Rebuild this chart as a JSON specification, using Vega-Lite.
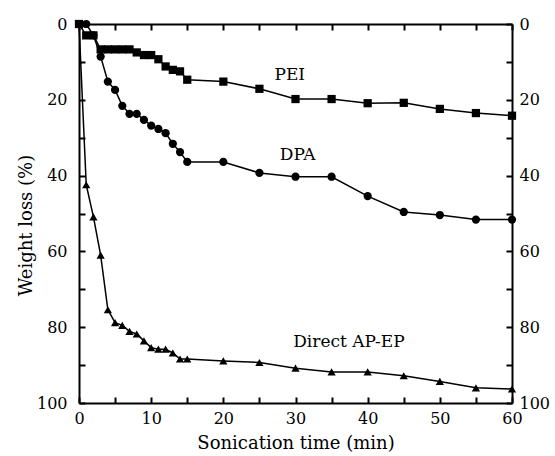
{
  "$schema": "https://vega.github.io/schema/vega-lite/v6.json",
  "width": 433,
  "height": 379,
  "autosize": {"type": "none"},
  "padding": {"left": 79, "top": 24, "right": 43, "bottom": 53},
  "background": "white",
  "config": {
    "view": {"stroke": null},
    "axis": {
      "grid": false,
      "domainColor": "black",
      "domainWidth": 2,
      "tickColor": "black",
      "tickWidth": 2,
      "tickSize": -6,
      "labelFont": "DejaVu Serif",
      "labelFontSize": 16,
      "labelColor": "black",
      "labelOverlap": false,
      "labelFlush": false,
      "titleFont": "DejaVu Serif",
      "titleFontSize": 18,
      "titleFontWeight": "normal",
      "titleColor": "black"
    }
  },
  "datasets": {
    "series": [
      {"t": 0, "w": 0, "s": "PEI"},
      {"t": 1, "w": 3, "s": "PEI"},
      {"t": 2, "w": 3, "s": "PEI"},
      {"t": 3, "w": 6.7, "s": "PEI"},
      {"t": 4, "w": 6.7, "s": "PEI"},
      {"t": 5, "w": 6.7, "s": "PEI"},
      {"t": 6, "w": 6.7, "s": "PEI"},
      {"t": 7, "w": 6.7, "s": "PEI"},
      {"t": 8, "w": 7.5, "s": "PEI"},
      {"t": 9, "w": 8.2, "s": "PEI"},
      {"t": 10, "w": 8.2, "s": "PEI"},
      {"t": 11, "w": 9.3, "s": "PEI"},
      {"t": 12, "w": 11.2, "s": "PEI"},
      {"t": 13, "w": 12.1, "s": "PEI"},
      {"t": 14, "w": 12.5, "s": "PEI"},
      {"t": 15, "w": 14.7, "s": "PEI"},
      {"t": 20, "w": 15.2, "s": "PEI"},
      {"t": 25, "w": 17.1, "s": "PEI"},
      {"t": 30, "w": 19.8, "s": "PEI"},
      {"t": 35, "w": 19.8, "s": "PEI"},
      {"t": 40, "w": 20.9, "s": "PEI"},
      {"t": 45, "w": 20.8, "s": "PEI"},
      {"t": 50, "w": 22.4, "s": "PEI"},
      {"t": 55, "w": 23.5, "s": "PEI"},
      {"t": 60, "w": 24.2, "s": "PEI"},
      {"t": 0, "w": 0, "s": "DPA"},
      {"t": 1, "w": 0, "s": "DPA"},
      {"t": 2, "w": 3, "s": "DPA"},
      {"t": 3, "w": 8.6, "s": "DPA"},
      {"t": 4, "w": 15.2, "s": "DPA"},
      {"t": 5, "w": 17.4, "s": "DPA"},
      {"t": 6, "w": 21.6, "s": "DPA"},
      {"t": 7, "w": 23.7, "s": "DPA"},
      {"t": 8, "w": 23.7, "s": "DPA"},
      {"t": 9, "w": 25.3, "s": "DPA"},
      {"t": 10, "w": 26.8, "s": "DPA"},
      {"t": 11, "w": 27.7, "s": "DPA"},
      {"t": 12, "w": 28.8, "s": "DPA"},
      {"t": 13, "w": 31.6, "s": "DPA"},
      {"t": 14, "w": 33.8, "s": "DPA"},
      {"t": 15, "w": 36.4, "s": "DPA"},
      {"t": 20, "w": 36.4, "s": "DPA"},
      {"t": 25, "w": 39.3, "s": "DPA"},
      {"t": 30, "w": 40.3, "s": "DPA"},
      {"t": 35, "w": 40.3, "s": "DPA"},
      {"t": 40, "w": 45.4, "s": "DPA"},
      {"t": 45, "w": 49.6, "s": "DPA"},
      {"t": 50, "w": 50.4, "s": "DPA"},
      {"t": 55, "w": 51.6, "s": "DPA"},
      {"t": 60, "w": 51.6, "s": "DPA"},
      {"t": 0, "w": 0, "s": "Direct AP-EP"},
      {"t": 1, "w": 42.4, "s": "Direct AP-EP"},
      {"t": 2, "w": 50.9, "s": "Direct AP-EP"},
      {"t": 3, "w": 61, "s": "Direct AP-EP"},
      {"t": 4, "w": 75.4, "s": "Direct AP-EP"},
      {"t": 5, "w": 78.8, "s": "Direct AP-EP"},
      {"t": 6, "w": 79.5, "s": "Direct AP-EP"},
      {"t": 7, "w": 81.1, "s": "Direct AP-EP"},
      {"t": 8, "w": 81.8, "s": "Direct AP-EP"},
      {"t": 9, "w": 83.6, "s": "Direct AP-EP"},
      {"t": 10, "w": 85.4, "s": "Direct AP-EP"},
      {"t": 11, "w": 85.8, "s": "Direct AP-EP"},
      {"t": 12, "w": 85.8, "s": "Direct AP-EP"},
      {"t": 13, "w": 86.8, "s": "Direct AP-EP"},
      {"t": 14, "w": 88.4, "s": "Direct AP-EP"},
      {"t": 15, "w": 88.4, "s": "Direct AP-EP"},
      {"t": 20, "w": 88.9, "s": "Direct AP-EP"},
      {"t": 25, "w": 89.3, "s": "Direct AP-EP"},
      {"t": 30, "w": 90.8, "s": "Direct AP-EP"},
      {"t": 35, "w": 91.8, "s": "Direct AP-EP"},
      {"t": 40, "w": 91.8, "s": "Direct AP-EP"},
      {"t": 45, "w": 92.8, "s": "Direct AP-EP"},
      {"t": 50, "w": 94.3, "s": "Direct AP-EP"},
      {"t": 55, "w": 96, "s": "Direct AP-EP"},
      {"t": 60, "w": 96.3, "s": "Direct AP-EP"}
    ],
    "labels": [
      {"t": 29.2, "w": 13.4, "text": "PEI"},
      {"t": 30.3, "w": 34.5, "text": "DPA"},
      {"t": 37.4, "w": 84, "text": "Direct AP-EP"}
    ]
  },
  "layer": [
    {
      "data": {"name": "series"},
      "mark": {"type": "line", "color": "black", "strokeWidth": 1.5},
      "encoding": {
        "x": {
          "field": "t", "type": "quantitative",
          "scale": {"domain": [0, 60], "nice": false},
          "axis": {
            "orient": "bottom",
            "values": [0, 5, 10, 15, 20, 25, 30, 35, 40, 45, 50, 55, 60],
            "labelExpr": "datum.value % 10 == 0 ? datum.label : ''",
            "labelPadding": 13,
            "title": "Sonication time (min)",
            "titleY": 31,
            "titleBaseline": "top"
          }
        },
        "y": {
          "field": "w", "type": "quantitative",
          "scale": {"domain": [0, 100], "nice": false, "reverse": true},
          "axis": {
            "orient": "left",
            "values": [0, 10, 20, 30, 40, 50, 60, 70, 80, 90, 100],
            "labelExpr": "datum.value % 20 == 0 ? datum.label : ''",
            "labelPadding": 18,
            "title": "Weight loss (%)",
            "titleX": -44,
            "titleY": 201
          }
        },
        "detail": {"field": "s"}
      }
    },
    {
      "data": {"name": "series"},
      "mark": {"type": "point", "filled": true, "opacity": 1, "color": "black", "size": 68},
      "encoding": {
        "x": {
          "field": "t", "type": "quantitative",
          "axis": {
            "orient": "top",
            "values": [0, 5, 10, 15, 20, 25, 30, 35, 40, 45, 50, 55, 60],
            "labels": false,
            "title": null
          }
        },
        "y": {
          "field": "w", "type": "quantitative",
          "axis": {
            "orient": "right",
            "values": [0, 10, 20, 30, 40, 50, 60, 70, 80, 90, 100],
            "labelExpr": "datum.value % 20 == 0 ? datum.label : ''",
            "labelPadding": 13,
            "title": null
          }
        },
        "shape": {
          "field": "s", "type": "nominal",
          "scale": {"domain": ["PEI", "DPA", "Direct AP-EP"], "range": ["square", "circle", "triangle-up"]},
          "legend": null
        }
      }
    },
    {
      "data": {"name": "labels"},
      "mark": {"type": "text", "font": "DejaVu Serif", "fontSize": 17, "color": "black"},
      "encoding": {
        "x": {"field": "t", "type": "quantitative", "axis": null},
        "y": {"field": "w", "type": "quantitative", "axis": null},
        "text": {"field": "text"}
      }
    }
  ],
  "resolve": {"axis": {"x": "independent", "y": "independent"}}
}
